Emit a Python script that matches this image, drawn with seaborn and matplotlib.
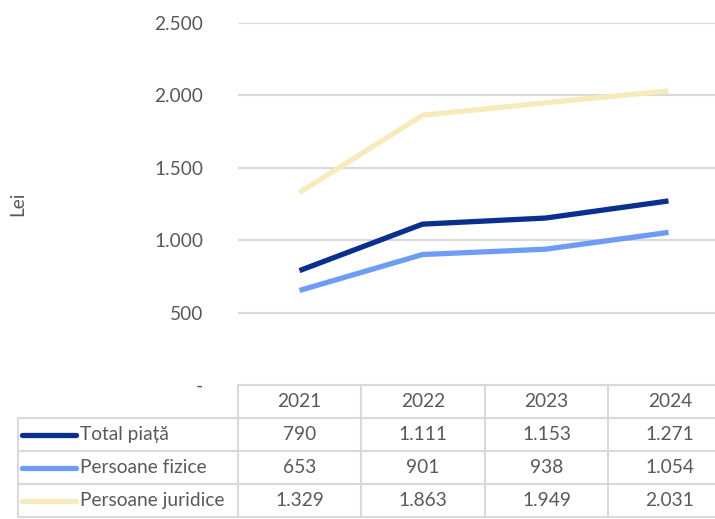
import matplotlib
matplotlib.use("Agg")
import matplotlib.pyplot as plt
import seaborn as sns
import pandas as pd
from matplotlib.lines import Line2D

years = ["2021", "2022", "2023", "2024"]
series_names = ["Total piață", "Persoane fizice", "Persoane juridice"]
total_piata = [790, 1111, 1153, 1271]
persoane_fizice = [653, 901, 938, 1054]
persoane_juridice = [1329, 1863, 1949, 2031]
y_ticks = [0, 500, 1000, 1500, 2000, 2500]
y_tick_labels = ["-", "500", "1.000", "1.500", "2.000", "2.500"]
colors = ["#0B2F8E", "#6D9CF6", "#F6EBBA"]

values = [total_piata, persoane_fizice, persoane_juridice]
df = pd.DataFrame(
    [(s, i, v) for s, vals in zip(series_names, values) for i, v in enumerate(vals)],
    columns=["serie", "pos", "valoare"],
)


def fmt(v):
    return f"{v:,}".replace(",", ".")


sns.set_theme(style="white")
plt.rcParams["font.family"] = ["Lato", "DejaVu Sans"]
text_color = "#595959"
grid_color = "#D9D9D9"
fs = 13.8

W, H = 715, 519
fig = plt.figure(figsize=(W / 100, H / 100), dpi=100)

# plot area in pixel terms
left_px, right_px, top_px, bottom_px = 238, 730, 23, 385
ax = fig.add_axes([left_px / W, 1 - bottom_px / H,
                   (right_px - left_px) / W, (bottom_px - top_px) / H])

sns.lineplot(data=df, x="pos", y="valoare", hue="serie", hue_order=series_names,
             palette=colors, linewidth=3.8, ax=ax, legend=False,
             solid_capstyle="butt", zorder=3)

ax.set_xlim(-0.5, 3.5)
ax.set_ylim(0, 2500)
ax.set_xticks([])
ax.set_yticks(y_ticks)
ax.set_yticklabels(y_tick_labels)
ax.tick_params(axis="y", length=0, pad=25, labelsize=fs, labelcolor=text_color)
for t in y_ticks[1:]:
    ax.axhline(t, color=grid_color, linewidth=1.5, zorder=1)
for s in ax.spines.values():
    s.set_visible(False)
ax.set_xlabel("")
ax.set_ylabel("Lei", fontsize=fs, color=text_color, labelpad=0)
ax.yaxis.set_label_coords((18 - left_px) / (right_px - left_px), 0.5)
ax.yaxis.label.set_va("center")


def fx(px):
    return px / W


def fy(py):
    return 1 - py / H


# data table below the plot
col_edges = [238, 361, 485, 608, 732]
row_edges = [385, 418, 451, 484, 517]
table_left = 18
lw = 1.5
# horizontal borders
fig.add_artist(Line2D([fx(238), fx(732)], [fy(385), fy(385)], color=grid_color, lw=lw))
for r in row_edges[1:]:
    fig.add_artist(Line2D([fx(table_left), fx(732)], [fy(r), fy(r)], color=grid_color, lw=lw))
# vertical borders
for c in col_edges:
    fig.add_artist(Line2D([fx(c), fx(c)], [fy(385), fy(517)], color=grid_color, lw=lw))
fig.add_artist(Line2D([fx(table_left), fx(table_left)], [fy(418), fy(517)], color=grid_color, lw=lw))

# header row with years
for i, y in enumerate(years):
    cx = (col_edges[i] + col_edges[i + 1]) / 2
    fig.text(fx(cx), fy((row_edges[0] + row_edges[1]) / 2), y, ha="center", va="center",
             fontsize=fs, color=text_color)

# series rows
for r, (name, vals, col) in enumerate(zip(series_names, values, colors)):
    cy = (row_edges[r + 1] + row_edges[r + 2]) / 2
    fig.add_artist(Line2D([fx(22), fx(76)], [fy(cy), fy(cy)], color=col, lw=3.8,
                          solid_capstyle="round"))
    fig.text(fx(80), fy(cy), name, ha="left", va="center", fontsize=fs, color=text_color)
    for i, v in enumerate(vals):
        cx = (col_edges[i] + col_edges[i + 1]) / 2
        fig.text(fx(cx), fy(cy), fmt(v), ha="center", va="center", fontsize=fs,
                 color=text_color)

fig.savefig("out.png", dpi=100)
